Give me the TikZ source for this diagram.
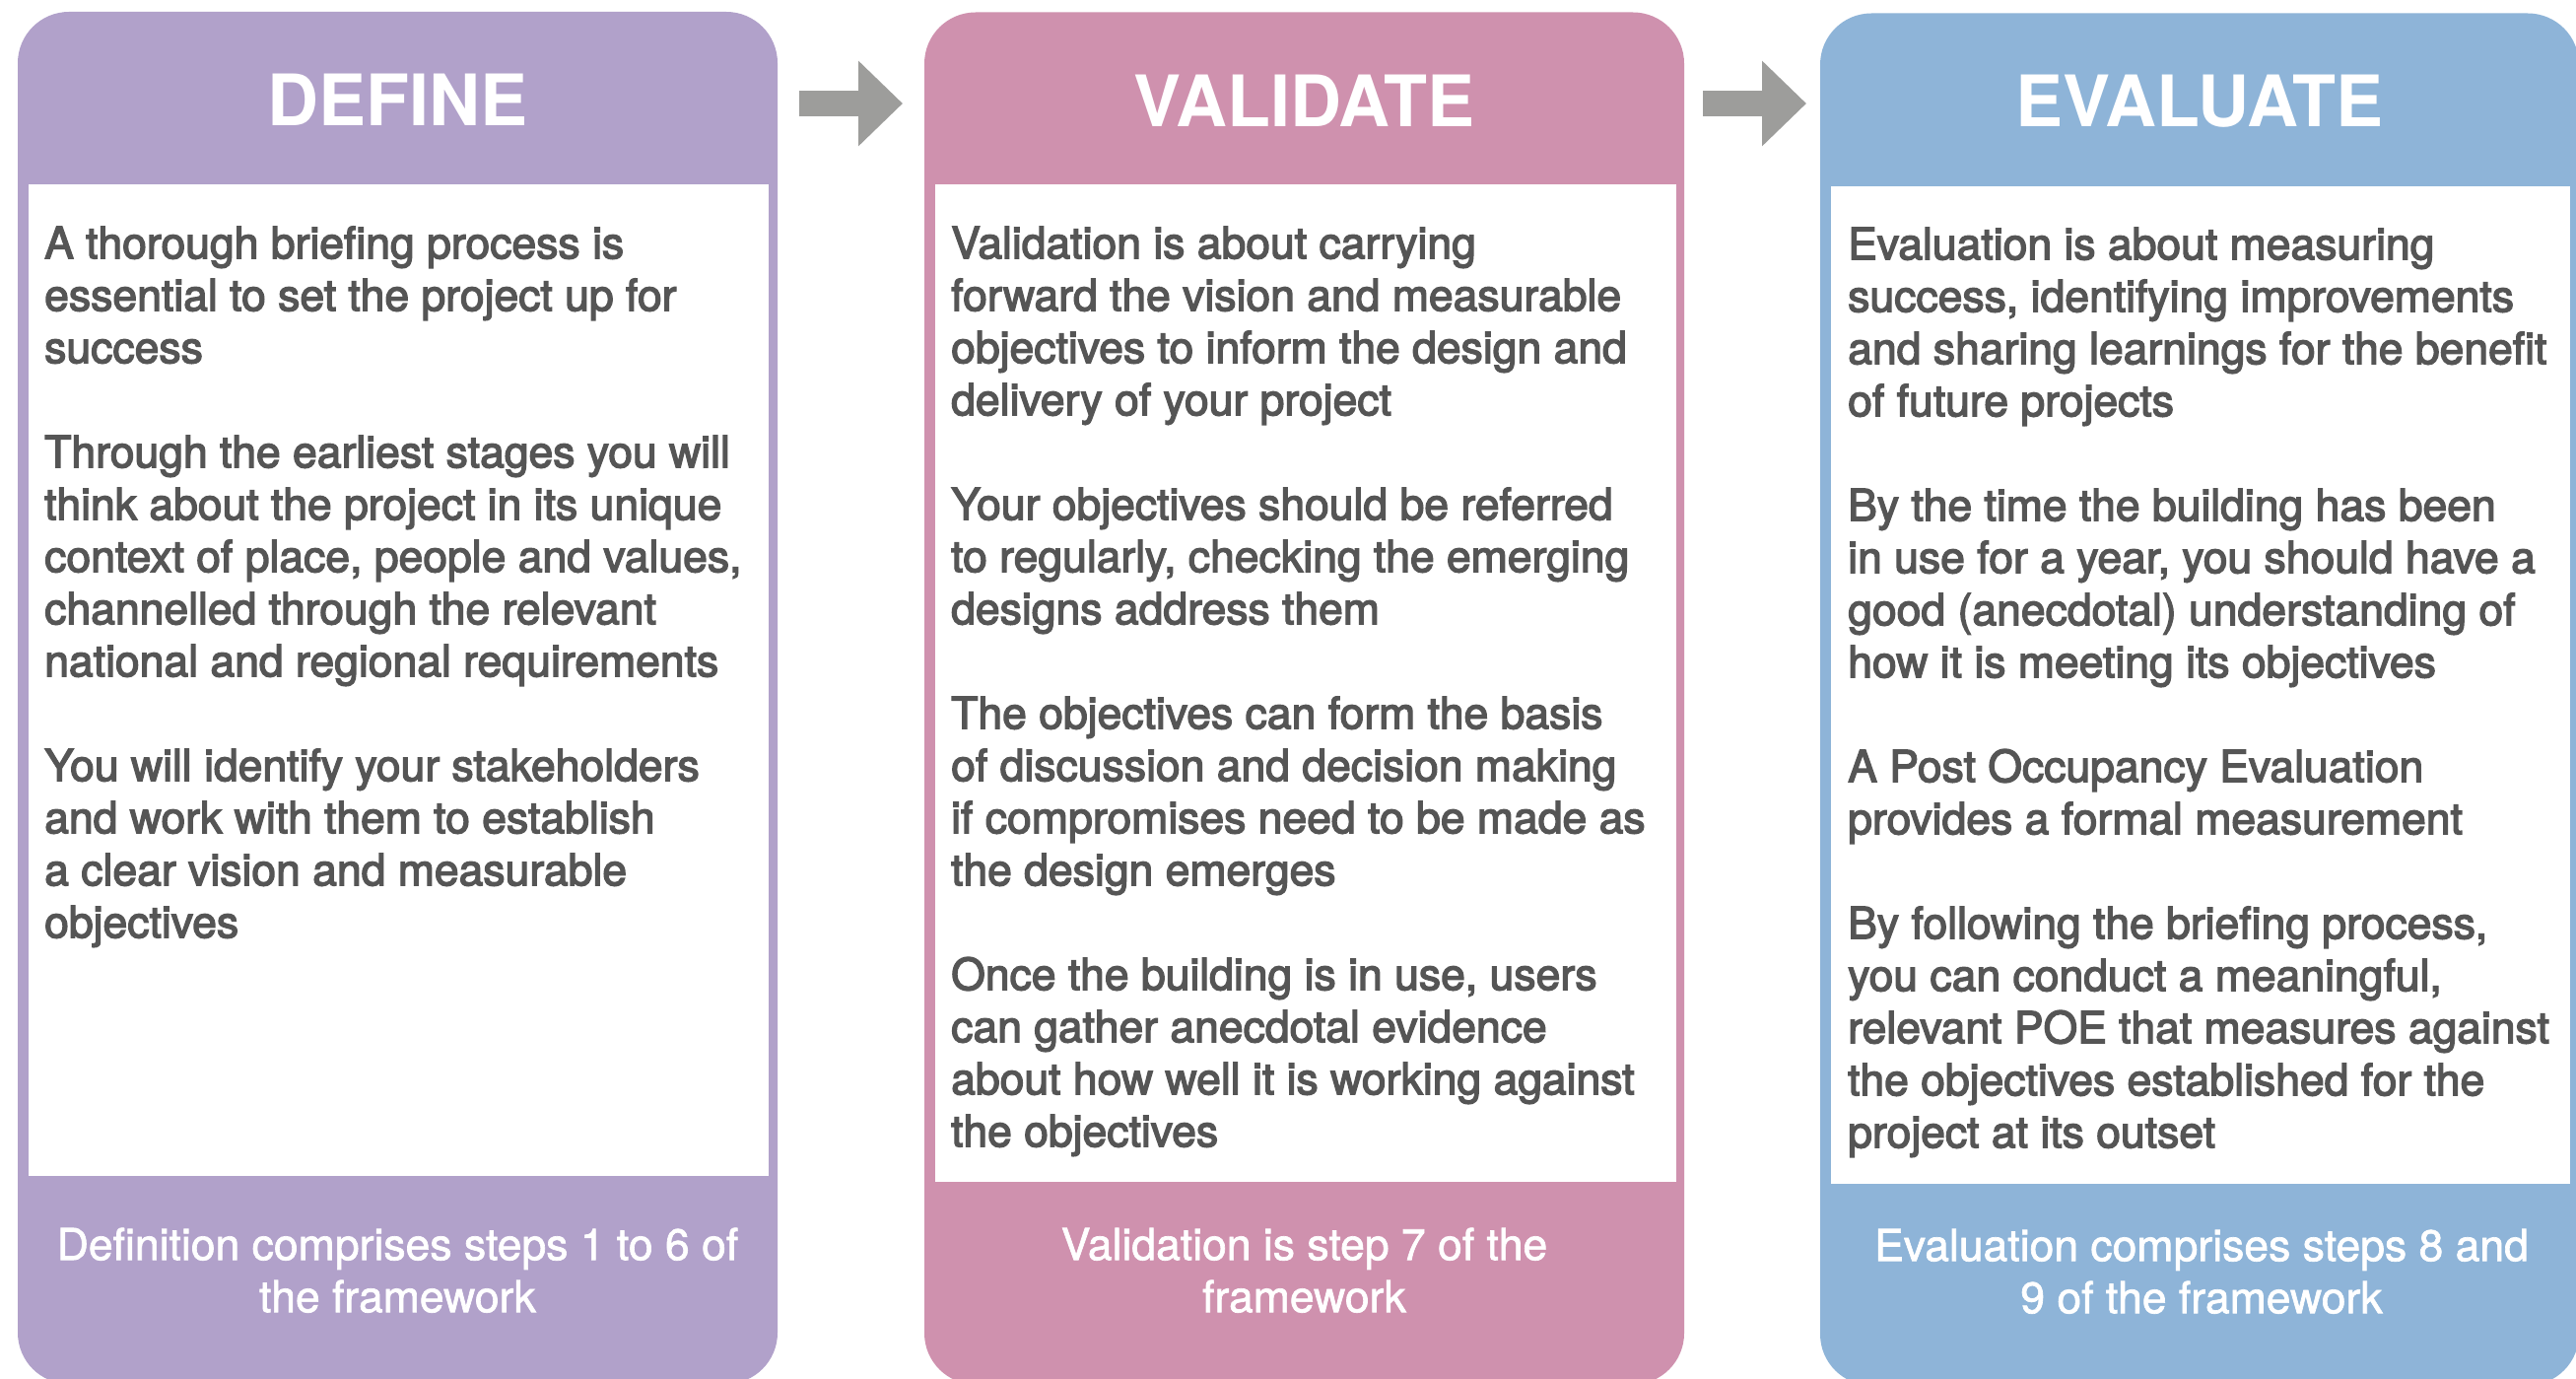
\documentclass[tikz,border=0pt]{standalone}
\usepackage{fontspec}
\setmainfont{TeX Gyre Heros}
\newfontfamily\bodyfont[FakeBold=3]{TeX Gyre Heros}
\newfontfamily\footfont[FakeBold=1.5]{TeX Gyre Heros}
\usetikzlibrary{arrows.meta}
\definecolor{cdef}{HTML}{B1A1CA}
\definecolor{cval}{HTML}{CF91AE}
\definecolor{ceva}{HTML}{8EB4D8}
\definecolor{carrow}{HTML}{9D9D9B}
\definecolor{ctext}{HTML}{555555}
\newcommand{\firstln}{\rule{0pt}{40pt}}
\begin{document}
\begin{tikzpicture}[x=1pt,y=-1pt,
 panel/.style={rounded corners=52pt, minimum width=771pt, minimum height=1392pt, inner sep=0pt, draw=none},
 innerbox/.style={fill=white, inner sep=0pt, draw=none},
 title/.style={font=\fontsize{72}{80}\selectfont\bfseries, text=white, anchor=base, inner sep=0pt},
 body/.style={font=\bodyfont\fontsize{44.5}{53}\selectfont, text=ctext, align=left, anchor=north west, inner sep=0pt},
 foot/.style={font=\footfont\fontsize{44.5}{53}\selectfont, text=white, align=center, anchor=north, inner sep=0pt},
 blockarrow/.style={draw=carrow, line width=26pt, -{Triangle[length=45pt,width=84pt]}}
]
\fill[white] (0,0) rectangle (2614,1399);
\useasboundingbox (0,0) rectangle (2614,1399);

% panels
\node[panel, fill=cdef] (def) at (403.5,708) {};
\node[panel, fill=cval] (val) at (1323.5,708.5) {};
\node[panel, fill=ceva, minimum width=770pt] (eva) at (2232,709.5) {};

\node[innerbox, minimum width=751pt, minimum height=1006pt] (defin) at (404.5,690) {};
\node[innerbox, minimum width=752pt, minimum height=1012pt] (valin) at (1325,693) {};
\node[innerbox, minimum width=750pt, minimum height=1012pt] (evain) at (2233,695) {};

% titles
\node[title] (deft) at (403.5,128) {DEFINE};
\node[title] (valt) at (1323.5,129) {VALIDATE};
\node[title] (evat) at (2232,129) {EVALUATE};

% body texts
\node[body] (defb) at (45,222) {\firstln A thorough briefing process is\\
essential to set the project up for\\
success\\[53pt]
Through the earliest stages you will\\
think about the project in its unique\\
context of place, people and values,\\
channelled through the relevant\\
national and regional requirements\\[53pt]
You will identify your stakeholders\\
and work with them to establish\\
a clear vision and measurable\\
objectives};

\node[body] (valb) at (965,222) {\firstln Validation is about carrying\\
forward the vision and measurable\\
objectives to inform the design and\\
delivery of your project\\[53pt]
Your objectives should be referred\\
to regularly, checking the emerging\\
designs address them\\[53pt]
The objectives can form the basis\\
of discussion and decision making\\
if compromises need to be made as\\
the design emerges\\[53pt]
Once the building is in use, users\\
can gather anecdotal evidence\\
about how well it is working against\\
the objectives};

\node[body] (evab) at (1875,223) {\firstln Evaluation is about measuring\\
success, identifying improvements\\
and sharing learnings for the benefit\\
of future projects\\[53pt]
By the time the building has been\\
in use for a year, you should have a\\
good (anecdotal) understanding of\\
how it is meeting its objectives\\[53pt]
A Post Occupancy Evaluation\\
provides a formal measurement\\[53pt]
By following the briefing process,\\
you can conduct a meaningful,\\
relevant POE that measures against\\
the objectives established for the\\
project at its outset};

% footers
\node[foot] (deff) at (403.5,1238) {\firstln Definition comprises steps 1 to 6 of\\ the framework};
\node[foot] (valf) at (1323.5,1238) {\firstln Validation is step 7 of the\\ framework};
\node[foot] (evaf) at (2234,1239) {\firstln Evaluation comprises steps 8 and\\ 9 of the framework};

% arrows
\coordinate (a1s) at (811,105);
\coordinate (a1e) at (916,105);
\coordinate (a2s) at (1728,105);
\coordinate (a2e) at (1833,105);
\draw[blockarrow] (a1s) -- (a1e);
\draw[blockarrow] (a2s) -- (a2e);
\end{tikzpicture}
\end{document}
